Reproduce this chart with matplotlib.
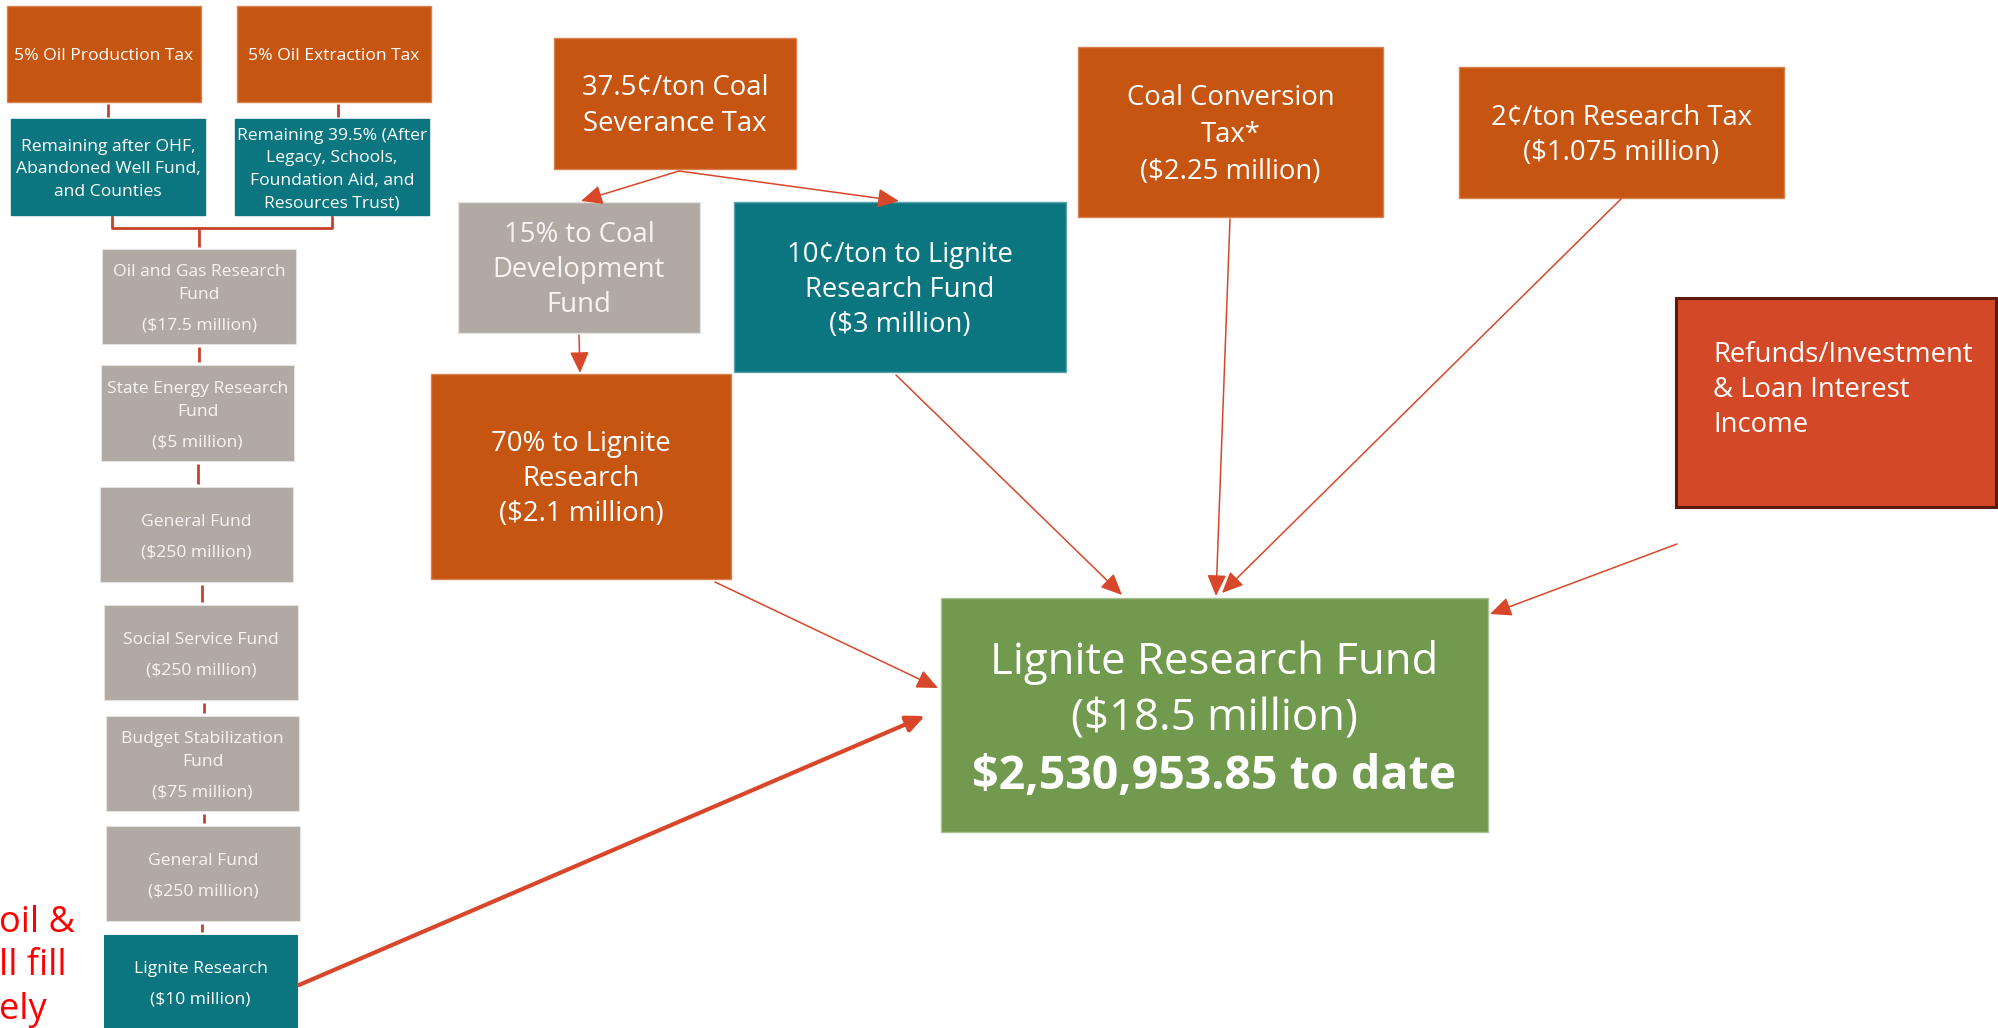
import matplotlib
matplotlib.use("Agg")
import matplotlib.pyplot as plt
from matplotlib.patches import Rectangle

plt.rcParams['font.family'] = ['Open Sans', 'DejaVu Sans']

# ---------------- data ----------------
oil_taxes = ["5% Oil Production Tax", "5% Oil Extraction Tax"]
oil_remaining = [
    ["Remaining after OHF,", "Abandoned Well Fund,", "and Counties"],
    ["Remaining 39.5% (After", "Legacy, Schools,", "Foundation Aid, and", "Resources Trust)"],
]
bucket_names = [
    ["Oil and Gas Research", "Fund"],
    ["State Energy Research", "Fund"],
    ["General Fund"],
    ["Social Service Fund"],
    ["Budget Stabilization", "Fund"],
    ["General Fund"],
    ["Lignite Research"],
]
bucket_millions = [17.5, 5, 250, 250, 75, 250, 10]

coal_severance = ["37.5\u00a2/ton Coal", "Severance Tax"]
coal_dev = ["15% to Coal", "Development", "Fund"]
ten_cent = ["10\u00a2/ton to Lignite", "Research Fund"]
ten_cent_millions = 3
seventy = ["70% to Lignite", "Research"]
seventy_millions = 2.1
conversion = ["Coal Conversion", "Tax*"]
conversion_millions = 2.25
research_tax = ["2\u00a2/ton Research Tax"]
research_tax_millions = 1.075
refunds = ["Refunds/Investment", "& Loan Interest", "Income"]
fund_name = "Lignite Research Fund"
fund_millions = 18.5
fund_to_date = 2530953.85
note_lines = ["oil &", "ll fill", "ely"]

# ---------------- style ----------------
ORANGE = "#C55511"
ORANGE_EDGE = "#D9804F"
TEAL = "#0B7580"
GRAY = "#B0A9A4"
GREEN = "#729A4E"
RED_BOX = "#D34827"
RED_EDGE = "#5A1B0E"
ARROW = "#D8472A"
CONNECT = "#C8412B"
W = 1998
H = 1028
REG = "normal"

fig = plt.figure(figsize=(W / 100, H / 100), dpi=100)
ax = fig.add_axes([0, 0, 1, 1])
ax.set_xlim(0, W)
ax.set_ylim(H, 0)
ax.axis("off")


def money(v):
    return f"(${v:g} million)"


def px(pt):
    return pt * 100 / 72


def box(b, color, edge=None, lw=1.0):
    x0, y0, x1, y1 = b
    ax.add_patch(Rectangle((x0, y0), x1 - x0, y1 - y0, facecolor=color,
                           edgecolor=edge if edge else color, lw=lw, zorder=2))


def lines_at(x, ys, texts, size, weight=REG, ha="center", color="white"):
    for y, t in zip(ys, texts):
        ax.text(x, y + 0.36 * px(size), t, fontsize=size, color=color,
                ha=ha, va="baseline", fontweight=weight, zorder=4)


def centered(b, texts, size, spacing, gaps=None, weight=None, sizes=None, color="white"):
    x0, y0, x1, y1 = b
    n = len(texts)
    gaps = gaps or [0] * n
    offs = []
    cur = 0
    for i in range(n):
        if i > 0:
            cur += spacing + gaps[i]
        offs.append(cur)
    cy = (y0 + y1) / 2 - offs[-1] / 2
    ys = [cy + o for o in offs]
    weights = weight or [REG] * n
    sizes = sizes or [size] * n
    for y, t, w, s in zip(ys, texts, weights, sizes):
        lines_at((x0 + x1) / 2, [y], [t], s, weight=w, color=color)


def arrow(p0, p1, lw=1.1, hl=1.0, hw=0.45, ms=13):
    ax.annotate("", xy=p1, xytext=p0,
                arrowprops=dict(arrowstyle=f"-|>,head_length={hl},head_width={hw}",
                                color=ARROW, lw=lw, shrinkA=0, shrinkB=0,
                                mutation_scale=ms),
                zorder=5)


def vline(x, y0, y1, lw=2.0):
    ax.plot([x, x], [y0, y1], color=CONNECT, lw=lw, solid_capstyle="butt", zorder=1)


# ---------------- left column: oil ----------------
tax_boxes = [(7, 6, 201, 102), (237, 6, 431, 102)]
rem_boxes = [(11, 119, 205, 215), (235, 119, 429, 215)]
for b, t in zip(tax_boxes, oil_taxes):
    box(b, ORANGE, ORANGE_EDGE)
    centered(b, [t], 12.6, 0)
for b, t in zip(rem_boxes, oil_remaining):
    box(b, TEAL)
    centered(b, t, 12.6, 22.5)

for tb, rb in zip(tax_boxes, rem_boxes):
    xc = (tb[0] + tb[2]) / 2 + 4
    vline(xc, tb[3] + 2, rb[1] - 2)

bucket_boxes = [
    (102, 249, 296, 344),
    (101, 365, 294, 461),
    (100, 487, 293, 582),
    (104, 605, 298, 700),
    (106, 716, 299, 811),
    (106, 826, 300, 921),
    (104, 935, 297, 1045),
]
yb = 228
xl = (rem_boxes[0][0] + rem_boxes[0][2]) / 2 + 4
xr = (rem_boxes[1][0] + rem_boxes[1][2]) / 2
ax.plot([xl, xl, xr, xr], [rem_boxes[0][3] + 2, yb, yb, rem_boxes[1][3] + 2],
        color=CONNECT, lw=2.0, zorder=1)
xc0 = (bucket_boxes[0][0] + bucket_boxes[0][2]) / 2
vline(xc0, yb, bucket_boxes[0][1] - 2)

for i, (b, names, m) in enumerate(zip(bucket_boxes, bucket_names, bucket_millions)):
    last = i == len(bucket_boxes) - 1
    box(b, TEAL if last else GRAY, None if last else "#E6E2DF", 0.8)
    texts = names + [money(m)]
    gaps = [0] * len(names) + [7.5]
    col = "white" if last else "#F7F5F4"
    if last:
        x0, y0, x1, y1 = b
        centered((x0, y0, x1, 1028), texts, 12.6, 23, gaps, color=col)
    else:
        centered(b, texts, 12.6, 23, gaps, color=col)
    if i > 0:
        pb = bucket_boxes[i - 1]
        xc = (b[0] + b[2]) / 2 + 1
        vline(xc, pb[3] + 3, b[1] - 3)

# ---------------- coal boxes ----------------
sev_box = (554, 38, 796, 169)
dev_box = (458, 202, 700, 333)
ten_box = (734, 202, 1066, 372)
sev70_box = (431, 374, 731, 579)
conv_box = (1078, 47, 1383, 217)
rt_box = (1459, 67, 1784, 198)
ref_box = (1676, 298, 1996, 507)
fund_box = (941, 598, 1488, 832)

BIG = 19.8
box(sev_box, ORANGE, ORANGE_EDGE)
centered(sev_box, coal_severance, BIG, 36)
box(dev_box, GRAY, "#E6E2DF")
centered(dev_box, coal_dev, BIG, 35, color="#F7F5F4")
box(ten_box, TEAL, "#5FA3AA")
centered(ten_box, ten_cent + [money(ten_cent_millions)], BIG, 35)
box(sev70_box, ORANGE, ORANGE_EDGE)
centered(sev70_box, seventy + [money(seventy_millions)], BIG, 35)
box(conv_box, ORANGE, ORANGE_EDGE)
centered(conv_box, conversion + [money(conversion_millions)], BIG, 37)
box(rt_box, ORANGE, ORANGE_EDGE)
centered(rt_box, research_tax + [money(research_tax_millions)], BIG, 35)

box(ref_box, RED_BOX, RED_EDGE, 2.2)
lines_at(1713, [352, 387, 422], refunds, BIG, ha="left")

box(fund_box, GREEN, "#A9C293")
centered(fund_box, [fund_name, money(fund_millions), f"${fund_to_date:,.2f} to date"],
         31.5, 57, weight=[REG, REG, "bold"], sizes=[31.5, 31.5, 33.5])

# ---------------- arrows ----------------
sev_bottom = ((sev_box[0] + sev_box[2]) / 2 + 4, sev_box[3] + 2)
arrow(sev_bottom, (581, dev_box[1] - 1))
arrow(sev_bottom, (899, ten_box[1] - 1))
arrow((579, dev_box[3] + 2), (580, sev70_box[1] - 1))
arrow((896, ten_box[3] + 3), (1122, fund_box[1] - 3))
arrow((1230, conv_box[3] + 2), (1216, fund_box[1] - 2))
arrow((1621, rt_box[3] + 1), (1222, fund_box[1] - 5))
arrow((715, sev70_box[3] + 3), (938, 688))
arrow((1677, 544), (fund_box[2] + 2, 614))
arrow((bucket_boxes[-1][2] + 2, 985), (925, 716), lw=3.0, ms=11)

# ---------------- clipped red note ----------------
for y, t in zip([932, 975, 1019], note_lines):
    ax.text(-1, y, t, fontsize=26, color="#FF0000", ha="left", va="baseline",
            fontweight=REG, zorder=4)

fig.savefig("out.png", dpi=100)
